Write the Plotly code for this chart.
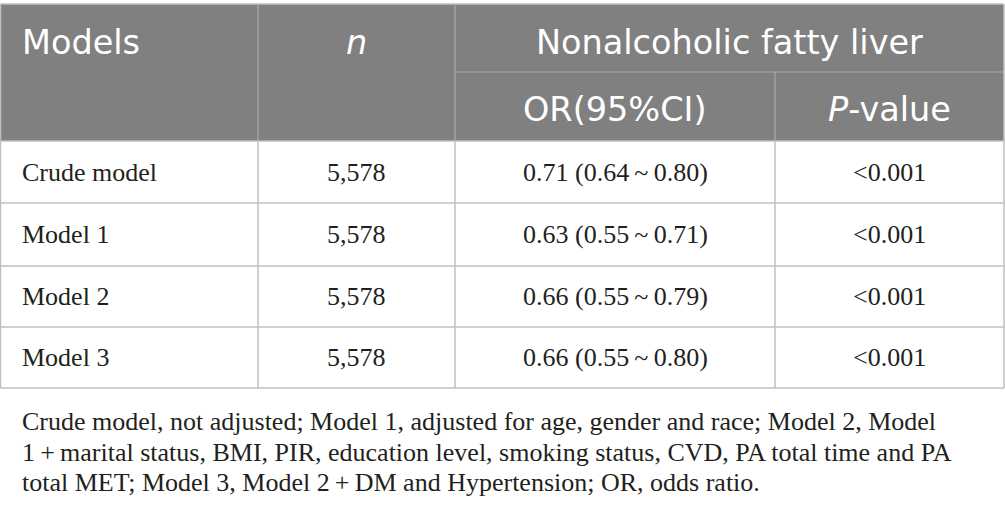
import plotly.graph_objects as go

models = ["Crude model", "Model 1", "Model 2", "Model 3"]
n_values = ["5,578", "5,578", "5,578", "5,578"]
or_values = [0.71, 0.63, 0.66, 0.66]
ci_low = [0.64, 0.55, 0.55, 0.55]
ci_high = [0.80, 0.71, 0.79, 0.80]
p_values = ["<0.001", "<0.001", "<0.001", "<0.001"]
footnote_lines = [
    "Crude model, not adjusted; Model 1, adjusted for age, gender and race; Model 2, Model",
    "1\u2009+\u2009marital status, BMI, PIR, education level, smoking status, CVD, PA total time and PA",
    "total MET; Model 3, Model 2\u2009+\u2009DM and Hypertension; OR, odds ratio.",
]

W, H = 1005, 514
col_x = [0.5, 258, 455, 775, 1004]
header_y = [4, 72, 141]
row_y = [141, 203, 266, 327, 388]
HEAD_BG = "#7f807f"
HEAD_LINE = "#a9a9a9"
BODY_LINE = "#bfbfbf"
TXT = "#231f20"
SANS = "DejaVu Sans"
SERIF = "Liberation Serif"

fig = go.Figure()
shapes = []
annotations = []

shapes.append(dict(type="rect", x0=col_x[0], x1=col_x[-1], y0=header_y[0], y1=header_y[2],
                   fillcolor=HEAD_BG, line=dict(width=0), layer="below"))
shapes.append(dict(type="line", x0=col_x[0], x1=col_x[-1], y0=header_y[0], y1=header_y[0],
                   line=dict(color=BODY_LINE, width=1.5)))
shapes.append(dict(type="line", x0=col_x[2], x1=col_x[-1], y0=header_y[1], y1=header_y[1],
                   line=dict(color=HEAD_LINE, width=1.2)))
for xv in [col_x[1], col_x[2]]:
    shapes.append(dict(type="line", x0=xv, x1=xv, y0=header_y[0], y1=header_y[2],
                       line=dict(color=HEAD_LINE, width=1.2)))
shapes.append(dict(type="line", x0=col_x[3], x1=col_x[3], y0=header_y[1], y1=header_y[2],
                   line=dict(color=HEAD_LINE, width=1.2)))
for yv in row_y:
    shapes.append(dict(type="line", x0=col_x[0], x1=col_x[-1], y0=yv, y1=yv,
                       line=dict(color=BODY_LINE, width=1.5)))
for xv in col_x:
    shapes.append(dict(type="line", x0=xv, x1=xv, y0=row_y[0], y1=row_y[-1],
                       line=dict(color=BODY_LINE, width=1.5)))
for xv in [col_x[0], col_x[-1]]:
    shapes.append(dict(type="line", x0=xv, x1=xv, y0=header_y[0], y1=header_y[2],
                       line=dict(color=BODY_LINE, width=1.5)))


def ann(x, y, text, size, family, xanchor="center", color=TXT):
    annotations.append(dict(x=x, y=y, text=text, showarrow=False, xanchor=xanchor, yanchor="middle",
                            font=dict(size=size, family=family, color=color)))


hs = 33.5
ann(20, 42, "Models", hs, SANS, "left", "white")
ann((col_x[1] + col_x[2]) / 2, 42, "<i>n</i>", hs, SANS, "center", "white")
ann((col_x[2] + col_x[4]) / 2, 42, "Nonalcoholic fatty liver", hs, SANS, "center", "white")
ann((col_x[2] + col_x[3]) / 2, 109, "OR(95%CI)", hs, SANS, "center", "white")
ann((col_x[3] + col_x[4]) / 2, 109, "<i>P</i>-value", hs, SANS, "center", "white")

bs = 26
for i in range(len(models)):
    yc = (row_y[i] + row_y[i + 1]) / 2
    ann(20, yc, models[i], bs, SERIF, "left")
    ann((col_x[1] + col_x[2]) / 2, yc, n_values[i], bs, SERIF)
    ann((col_x[2] + col_x[3]) / 2, yc,
        f"{or_values[i]:.2f} ({ci_low[i]:.2f}\u2009~\u2009{ci_high[i]:.2f})", bs, SERIF)
    ann((col_x[3] + col_x[4]) / 2, yc, p_values[i], bs, SERIF)

for j, line in enumerate(footnote_lines):
    ann(20, 421.5 + j * 30.5, line, bs, SERIF, "left")

fig.update_layout(
    width=W, height=H,
    margin=dict(l=0, r=0, t=0, b=0),
    paper_bgcolor="white", plot_bgcolor="white",
    xaxis=dict(range=[0, W], visible=False, fixedrange=True),
    yaxis=dict(range=[H, 0], visible=False, fixedrange=True),
    shapes=shapes, annotations=annotations, showlegend=False,
)
fig.write_html("out.html", config={"displayModeBar": False},
               post_script="document.body.style.margin='0';document.body.style.overflow='hidden';")
